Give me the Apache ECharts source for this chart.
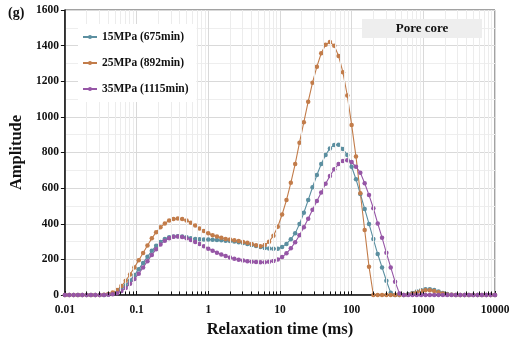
<!DOCTYPE html>
<html><head><meta charset="utf-8">
<script src="https://cdn.jsdelivr.net/npm/echarts@6/dist/echarts.min.js"></script>
<style>html,body{margin:0;padding:0;background:#fff}#c{width:514px;height:343px}</style>
</head><body><div id="c"></div>
<script>
// Relaxation time grid (ms)
const T2 = [0.01, 0.0115, 0.01322, 0.0152, 0.01748, 0.02009, 0.0231, 0.02656, 0.03054, 0.03511,
 0.04037, 0.04642, 0.05337, 0.06136, 0.07055, 0.08111, 0.09326, 0.1072, 0.1233, 0.1418,
 0.163, 0.1874, 0.2154, 0.2477, 0.2848, 0.3275, 0.3765, 0.4329, 0.4977, 0.5722,
 0.6579, 0.7565, 0.8697, 1, 1.15, 1.322, 1.52, 1.748, 2.009, 2.31,
 2.656, 3.054, 3.511, 4.037, 4.642, 5.337, 6.136, 7.055, 8.111, 9.326,
 10.72, 12.33, 14.18, 16.3, 18.74, 21.54, 24.77, 28.48, 32.75, 37.65,
 43.29, 49.77, 57.22, 65.79, 75.65, 86.97, 100, 115, 132.2, 152,
 174.8, 200.9, 231, 265.6, 305.4, 351.1, 403.7, 464.2, 533.7, 613.6,
 705.5, 811.1, 932.6, 1072, 1233, 1418, 1630, 1874, 2154, 2477,
 2848, 3275, 3765, 4329, 4977, 5722, 6579, 7565, 8697, 10000];

const amp15 = [0,0,0,0,0,0,0,0,0,0,
 3,8,18,33,55,82,112,145,180,215,
 248,276,298,314,324,329,330,328,324,319,
 315,313,312,311,310,309,307,305,303,300,
 296,292,287,281,275,269,264,261,259,260,
 270,287,313,346,398,462,533,605,674,735,
 786,823,842,844,820,786,720,650,567,483,
 399,314,230,155,80,12,0,0,0,4,
 11,20,27,32,32,28,20,11,5,1,
 0,0,0,0,0,0,0,0,0,0];

const amp25 = [0,0,0,0,0,0,0,0,0,2,
 6,14,28,50,80,115,155,195,236,278,
 318,352,380,402,418,427,429,426,418,405,
 390,374,359,346,336,328,321,315,311,307,
 303,298,293,287,280,274,281,299,333,383,
 452,533,630,735,855,970,1085,1192,1282,1357,
 1405,1420,1400,1342,1250,1120,955,777,571,365,
 159,0,0,0,0,0,0,0,0,2,
 8,16,22,26,26,22,15,8,3,1,
 0,0,0,0,0,0,0,0,0,0];

const amp35 = [0,0,0,0,0,0,0,0,0,0,
 1,4,10,22,40,63,90,120,155,190,
 225,257,284,305,319,327,329,326,319,309,
 298,287,273,260,248,237,228,219,211,204,
 198,193,189,187,185,184,184,186,191,199,
 213,234,262,296,335,380,428,478,528,576,
 624,668,706,735,752,757,746,720,687,627,
 561,487,402,322,237,155,75,9,0,0,
 0,0,0,0,0,0,0,0,0,0,
 0,0,0,0,0,0,0,0,0,0];

const seriesNames = ['15MPa (675min)', '25MPa (892min)', '35MPa (1115min)'];
const seriesColors = ['#5b8fa0', '#c27c4a', '#9656a6'];
const xTickLabels = ['0.01', '0.1', '1', '10', '100', '1000', '10000'];
const yTicks = [0, 200, 400, 600, 800, 1000, 1200, 1400, 1600];
const decades = [0.01, 0.1, 1, 10, 100, 1000];
const minorMult = [2, 3, 4, 5, 6, 7, 8, 9];

const FONT = "'Liberation Serif', 'Times New Roman', serif";
const minorVals = [];
decades.forEach(d => minorMult.forEach(m => minorVals.push(+(d * m).toPrecision(3))));

const chart = echarts.init(document.getElementById('c'), null, {renderer: 'canvas'});

function mkSeries(name, arr, color) {
  return {
    name: name, type: 'line', data: T2.map((t, i) => [t, arr[i]]),
    symbol: 'circle', symbolSize: 4.5, smooth: false,
    lineStyle: {color: color, width: 1.1},
    itemStyle: {color: color},
    emphasis: {disabled: true}, z: 3
  };
}

const option = {
  animation: false,
  grid: {left: 62, top: 10, width: 433, height: 285, show: true, borderColor: '#444', borderWidth: 1, backgroundColor: 'transparent'},
  legend: {
    data: seriesNames.map(n => ({name: n, itemStyle: {borderWidth: 0}})),
    orient: 'vertical', left: 78, top: 24, itemGap: 12, z: 30,
    itemWidth: 14, itemHeight: 5, padding: [6, 8, 6, 4], backgroundColor: '#fff',
    textStyle: {fontFamily: FONT, fontWeight: 'bold', fontSize: 11.5, color: '#111', lineHeight: 14}
  },
  xAxis: {
    type: 'log', logBase: 10, min: 0.01, max: 10000, splitNumber: 6,
    name: 'Relaxation time (ms)', nameLocation: 'middle', nameGap: 22,
    nameTextStyle: {fontFamily: FONT, fontWeight: 'bold', fontSize: 16.5, color: '#111'},
    axisLine: {show: true, onZero: false, lineStyle: {color: '#111', width: 1.5}},
    axisTick: {show: true, inside: true, length: 4, lineStyle: {color: '#111'}},
    axisLabel: {
      fontFamily: FONT, fontWeight: 'bold', fontSize: 11.5, color: '#111', margin: 9,
      formatter: v => xTickLabels[Math.round(Math.log10(v)) + 2]
    },
    splitLine: {show: true, lineStyle: {color: '#d9d9d9', width: 1}}
  },
  yAxis: {
    type: 'value', min: yTicks[0], max: yTicks[yTicks.length - 1], interval: 200,
    name: 'Amplitude', nameLocation: 'middle', nameGap: 36,
    nameTextStyle: {fontFamily: FONT, fontWeight: 'bold', fontSize: 16.5, color: '#111'},
    axisLine: {show: true, lineStyle: {color: '#111', width: 1.5}},
    axisTick: {show: true, inside: false, length: 4, lineStyle: {color: '#111'}},
    axisLabel: {fontFamily: FONT, fontWeight: 'bold', fontSize: 11.5, color: '#111', margin: 6,
      formatter: v => String(v)},
    splitLine: {show: true, lineStyle: {color: '#d9d9d9', width: 1}},
    minorTick: {show: false, splitNumber: 2},
    minorSplitLine: {show: true, lineStyle: {color: '#eeeeee', width: 1}}
  },
  series: [
    {
      type: 'line', data: [], silent: true, z: 1,
      markLine: {
        silent: true, symbol: ['none', 'none'], label: {show: false}, animation: false,
        emphasis: {disabled: true},
        lineStyle: {color: '#ececec', width: 1, type: 'solid'},
        data: minorVals.map(v => ({xAxis: v}))
      }
    },
    {
      type: 'line', data: [], silent: true, z: 4,
      markLine: {
        silent: true, symbol: ['none', 'none'], label: {show: false}, animation: false,
        emphasis: {disabled: true},
        lineStyle: {color: '#111', width: 1, type: 'solid'},
        data: minorVals.map(v => [{coord: [v, 0]}, {coord: [v, 20]}])
      }
    },
    mkSeries(seriesNames[0], amp15, seriesColors[0]),
    mkSeries(seriesNames[1], amp25, seriesColors[1]),
    mkSeries(seriesNames[2], amp35, seriesColors[2])
  ],
  graphic: [
    {type: 'text', left: 8, top: 6, style: {text: '(g)', font: "bold 14px 'Liberation Serif', serif", fill: '#111'}},
    {type: 'rect', shape: {x: 362, y: 19, width: 120, height: 19}, style: {fill: '#eeeeee'}, z: 10},
    {type: 'text', x: 422, y: 29, style: {text: 'Pore core', font: "bold 13px 'Liberation Serif', serif", fill: '#111', align: 'center', verticalAlign: 'middle'}, z: 11}
  ]
};
chart.setOption(option);
</script>
</body></html>
